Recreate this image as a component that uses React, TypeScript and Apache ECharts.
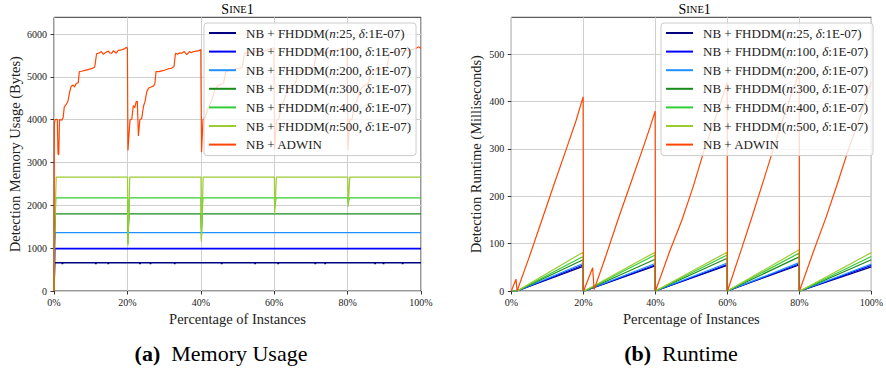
import React, { useEffect, useRef } from "react";
import * as echarts from "echarts";

const FONT = "Liberation Serif";

const seriesNames = [
  "NB + FHDDM(n:25, δ:1E-07)",
  "NB + FHDDM(n:100, δ:1E-07)",
  "NB + FHDDM(n:200, δ:1E-07)",
  "NB + FHDDM(n:300, δ:1E-07)",
  "NB + FHDDM(n:400, δ:1E-07)",
  "NB + FHDDM(n:500, δ:1E-07)",
  "NB + ADWIN",
];
const seriesColors = ["#000080", "#0000ff", "#1e90ff", "#1a8a1a", "#32cd32", "#9acd32", "#ff4500"];

const memTicks = [0, 1000, 2000, 3000, 4000, 5000, 6000];
const rtTicks = [0, 100, 200, 300, 400, 500];

// ---- Memory usage (bytes) vs percentage of instances ----
const memN25 = [[0,0],[0.15,660],[2.2,660],[2.3,628],[2.4,660],[11.3,660],[11.4,628],[11.5,660],[14.7,660],[14.8,628],[14.9,660],[23.3,660],[23.4,628],[23.5,660],[26.2,660],[26.3,628],[26.4,660],[32.8,660],[32.9,628],[33.0,660],[45.6,660],[45.7,628],[45.8,660],[54.7,660],[54.8,628],[54.9,660],[61.0,660],[61.1,628],[61.2,660],[71.1,660],[71.2,628],[71.3,660],[73.8,660],[73.9,628],[74.0,660],[87.4,660],[87.5,628],[87.6,660],[89.7,660],[89.8,628],[89.9,660],[94.9,660],[95.0,628],[95.1,660],[100,660]];
const memN100 = [[0,0],[0.2,990],[100,990]];
const memN200 = [[0,0],[0.3,1362],[100,1362]];
const memN300 = [[0,0],[0.1,1000],[0.4,1800],[20.05,1800],[20.15,1300],[20.45,1800],[40.05,1800],[40.15,1450],[40.45,1800],[100,1800]];
const memN400 = [[0,0],[0.1,1100],[0.5,2172],[20.05,2172],[20.15,1100],[20.55,2172],[40.05,2172],[40.15,1200],[40.55,2172],[60.05,2172],[60.15,1950],[60.5,2172],[80.05,2172],[80.15,2050],[80.5,2172],[100,2172]];
const memN500 = [[0,0],[0.1,1200],[0.6,2660],[20.05,2660],[20.15,1060],[20.65,2660],[40.05,2660],[40.15,1150],[40.65,2660],[60.05,2660],[60.15,1800],[60.6,2660],[80.05,2660],[80.15,1970],[80.6,2660],[100,2660]];
const memAdwin = [[0,0],[0.1,3900],[0.3,4000],[0.9,4010],[1.1,3200],[1.3,3180],[1.5,4000],[2.2,3990],[2.5,4050],[2.8,4300],[3.3,4350],[3.8,4430],[4.3,4660],[4.7,4780],[5.2,4810],[5.6,4760],[6.1,4850],[6.6,4860],[6.9,5120],[7.5,5130],[8.4,5150],[9.3,5170],[10.2,5190],[11.1,5230],[11.6,5540],[12.4,5560],[12.9,5590],[13.4,5530],[14.3,5580],[14.8,5600],[15.2,5560],[15.7,5550],[16.2,5610],[17.0,5550],[17.5,5620],[18.4,5630],[19.3,5660],[19.8,5690],
  [20.0,5670],[20.15,3280],[20.7,3990],[21.2,4010],[21.6,4330],[22.0,4280],[22.4,4420],[22.7,4430],[23.0,3620],[23.4,4000],[23.9,4030],[24.4,4320],[24.8,4420],[25.3,4660],[25.8,4740],[26.6,4770],[27.2,4790],[27.5,4850],[27.8,5125],[28.6,5120],[29.4,5140],[30.3,5160],[31.2,5190],[32.0,5200],[32.7,5240],[33.1,5550],[33.7,5530],[34.2,5560],[34.8,5550],[35.5,5590],[36.2,5520],[36.9,5590],[37.4,5560],[38.0,5590],[38.8,5600],[39.6,5610],[39.9,5640],
  [40.0,5620],[40.2,3240],[40.6,4000],[41.2,4050],[41.8,4230],[42.3,4320],[43.0,4450],[43.8,4700],[44.6,4790],[45.4,4820],[46.2,4850],[46.8,5130],[47.8,5150],[49.0,5170],[50.2,5200],[51.3,5230],[51.9,5540],[52.8,5570],[53.7,5560],[54.6,5600],[55.5,5570],[56.4,5620],[57.3,5600],[58.2,5640],[59.1,5650],[59.9,5680],
  [60.1,3300],[60.6,3980],[61.3,4020],[61.9,4350],[62.6,4420],[63.4,4650],[64.2,4780],[65.0,4800],[65.8,4840],[66.5,5120],[67.5,5140],[68.6,5160],[69.7,5190],[70.8,5220],[71.5,5530],[72.4,5560],[73.3,5580],[74.2,5550],[75.1,5600],[76.0,5590],[77.0,5620],[78.0,5630],[79.0,5650],[79.9,5670],
  [80.1,3290],[80.6,4000],[81.2,4010],[81.8,4340],[82.5,4430],[83.3,4670],[84.1,4770],[84.9,4810],[85.7,4860],[86.4,5120],[87.4,5150],[88.5,5170],[89.6,5200],[90.7,5230],[91.4,5540],[92.3,5570],[93.2,5560],[94.1,5600],[95.0,5590],[95.9,5620],[96.8,5610],[97.7,5640],[98.6,5660],[99.4,5700],[100,5660]];

// ---- Runtime (ms) vs percentage of instances ----
const rtN25 = [[0,0],[1.6,0],[19.95,52],[20.0,0],[20.3,0],[39.95,53],[40.0,0],[40.1,0],[59.95,54],[60.0,0],[60.1,0],[79.95,55],[80.0,0],[80.2,0],[100,51]];
const rtN100 = [[0,0],[1.6,0],[19.95,55],[20.0,0],[20.3,0],[39.95,55],[40.0,0],[40.1,0],[59.95,56],[60.0,0],[60.1,0],[79.95,57],[80.0,0],[80.2,0],[100,54]];
const rtN200 = [[0,0],[1.6,0],[19.95,58],[20.0,0],[20.3,0],[39.95,58],[40.0,0],[40.1,0],[59.95,59],[60.0,0],[60.1,0],[79.95,60],[80.0,0],[80.2,0],[100,57]];
const rtN300 = [[0,0],[1.6,0],[19.95,66],[20.0,0],[20.3,0],[39.95,67],[40.0,0],[40.1,0],[59.95,69],[60.0,0],[60.1,0],[79.95,72],[80.0,0],[80.2,0],[100,66]];
const rtN400 = [[0,0],[1.6,0],[19.95,73],[20.0,0],[20.3,0],[39.95,76],[40.0,0],[40.1,0],[59.95,76],[60.0,0],[60.1,0],[79.95,80],[80.0,0],[80.2,0],[100,73]];
const rtN500 = [[0,0],[1.6,0],[19.95,82],[20.0,0],[20.3,0],[39.95,82],[40.0,0],[40.1,0],[59.95,82],[60.0,0],[60.1,0],[79.95,87],[80.0,0],[80.2,0],[100,81]];
const rtAdwin = [[0,0],[1.3,25],[1.6,0],[5,72],[8.5,150],[12,228],[15.2,298],[18,360],[19.95,410],[20.05,0],[20.2,2],[22.6,49],[23.0,3],[26,68],[29.6,150],[33,224],[36.4,298],[38.5,345],[39.95,380],[40.05,0],[44,84],[47.4,150],[50.5,220],[53.6,298],[57,372],[59.95,440],[60.05,0],[64,90],[67,160],[70,232],[72.7,298],[76,376],[79.95,462],[80.05,0],[84,85],[87.4,155],[90.5,225],[93.6,298],[97,370],[100,442]];

const memData = [memN25, memN100, memN200, memN300, memN400, memN500, memAdwin];
const rtData = [rtN25, rtN100, rtN200, rtN300, rtN400, rtN500, rtAdwin];

const GRID_TOP = 17.3;
const GRID_H = 273.7;
const TEXT = "#222";

function makeX(gridIndex: number) {
  return {
    type: "value", gridIndex, min: 0, max: 100, interval: 20,
    name: "Percentage of Instances", nameLocation: "middle", nameGap: 14,
    nameTextStyle: { fontFamily: FONT, fontSize: 14.5, color: TEXT },
    axisLine: { show: false },
    axisTick: { show: true, inside: false, length: 3.5, lineStyle: { color: "#333", width: 1 } },
    axisLabel: { margin: 6, fontFamily: FONT, fontSize: 10, color: TEXT, formatter: "{value}%" },
    splitLine: { show: true, lineStyle: { color: "#cfcfcf", width: 1 } },
  };
}

function makeY(gridIndex: number, max: number, ticks: number[], name: string, nameGap: number) {
  return {
    type: "value", gridIndex, min: 0, max,
    name, nameLocation: "middle", nameGap,
    nameTextStyle: { fontFamily: FONT, fontSize: 14.5, color: TEXT },
    axisLine: { show: false },
    axisTick: { show: true, inside: false, length: 3.5, customValues: ticks, lineStyle: { color: "#333", width: 1 } },
    axisLabel: { margin: 7, fontFamily: FONT, fontSize: 10, color: TEXT, customValues: ticks,
      formatter: (v: number) => (ticks.indexOf(v) >= 0 ? String(v) : "") },
    splitLine: { show: true, lineStyle: { color: "#cfcfcf", width: 1 } },
  };
}

function makeLegend(left: number) {
  return {
    orient: "vertical", left, top: 23,
    padding: [3, 5, 4, 4],
    itemWidth: 27, itemHeight: 14, itemGap: 4.6,
    backgroundColor: "rgba(255,255,255,0.8)",
    borderColor: "#cccccc", borderWidth: 1, borderRadius: 3,
    selectedMode: false,
    data: seriesNames,
    lineStyle: { width: 2 },
    itemStyle: { opacity: 0, borderWidth: 0 },
    formatter: (name: string) => "{s|}" + name.replace("n:", "{i|n}:").replace("δ:", "{i|δ}:"),
    textStyle: {
      fontFamily: FONT, fontSize: 13, color: TEXT, lineHeight: 14,
      rich: {
        s: { width: 5 },
        i: { fontStyle: "italic", fontFamily: FONT, fontSize: 13, lineHeight: 14, color: TEXT },
      },
    },
  };
}

export default function App() {
  const ref = useRef<HTMLDivElement>(null);
  useEffect(() => {
    if (!ref.current) return;
    const chart = echarts.init(ref.current, undefined, { renderer: "svg" });
    const series: any[] = [];
    memData.forEach((d, i) => {
      series.push({
        name: seriesNames[i], type: "line", xAxisIndex: 0, yAxisIndex: 0, data: d,
        showSymbol: false, symbol: "none", color: seriesColors[i],
        lineStyle: { width: i < 2 ? 1.6 : 1.2, color: seriesColors[i] },
        z: 2 + i * 0.01,
      });
    });
    rtData.forEach((d, i) => {
      series.push({
        name: seriesNames[i], type: "line", xAxisIndex: 1, yAxisIndex: 1, data: d,
        showSymbol: false, symbol: "none", color: seriesColors[i],
        lineStyle: { width: 1.2, color: seriesColors[i] },
        z: 2 + i * 0.01,
      });
    });
    const titleRich = {
      a: { fontFamily: FONT, fontSize: 14, color: TEXT },
      b: { fontFamily: FONT, fontSize: 10.5, color: TEXT },
    };
    const capRich = {
      b: { fontFamily: FONT, fontSize: 22, fontWeight: "bold", color: TEXT },
      r: { fontFamily: FONT, fontSize: 22, color: TEXT },
      g: { width: 11 },
    };
    chart.setOption({
      animation: false,
      textStyle: { fontFamily: FONT },
      grid: [
        { left: 54, top: GRID_TOP, width: 367, height: GRID_H, show: true, borderColor: "#333", borderWidth: 1, backgroundColor: "transparent" },
        { left: 511.3, top: GRID_TOP, width: 366.7, height: GRID_H, show: true, borderColor: "#333", borderWidth: 1, backgroundColor: "transparent" },
      ],
      xAxis: [makeX(0), makeX(1)],
      yAxis: [
        makeY(0, 6390, memTicks, "Detection Memory Usage (Bytes)", 32),
        makeY(1, 578, rtTicks, "Detection Runtime (Milliseconds)", 28),
      ],
      legend: [makeLegend(204), makeLegend(661)],
      graphic: [
        { type: "text", x: 237.5, y: 9, style: { text: "{a|S}{b|INE}{a|1}", rich: titleRich, font: "14px Liberation Serif", textAlign: "center", textVerticalAlign: "middle" } },
        { type: "text", x: 694.7, y: 9, style: { text: "{a|S}{b|INE}{a|1}", rich: titleRich, font: "14px Liberation Serif", textAlign: "center", textVerticalAlign: "middle" } },
        { type: "text", x: 221, y: 353, style: { text: "{b|(a)}{g|}{r|Memory Usage}", rich: capRich, font: "22px Liberation Serif", textAlign: "center", textVerticalAlign: "middle" } },
        { type: "text", x: 681, y: 353, style: { text: "{b|(b)}{g|}{r|Runtime}", rich: capRich, font: "22px Liberation Serif", textAlign: "center", textVerticalAlign: "middle" } },
      ],
      series,
    });
    return () => chart.dispose();
  }, []);
  return <div ref={ref} style={{ position: "absolute", left: 0, top: 0, width: 886, height: 373 }} />;
}
